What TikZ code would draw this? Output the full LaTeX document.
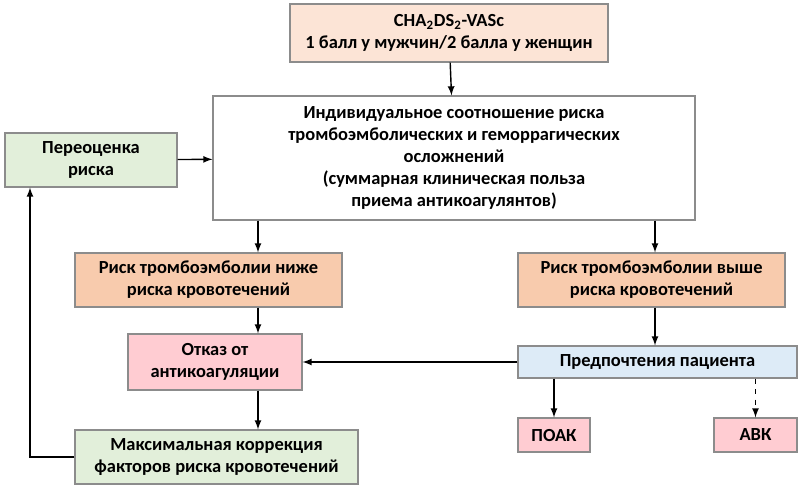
\documentclass[tikz,border=0pt]{standalone}
\usepackage{fontspec}
\setmainfont{Carlito}
\usepackage{xcolor}
\usetikzlibrary{positioning}
\definecolor{peach}{HTML}{FCE4D6}
\definecolor{orng}{HTML}{F8CBAD}
\definecolor{grn}{HTML}{E2EFDA}
\definecolor{pnk}{HTML}{FFCCD2}
\definecolor{blu}{HTML}{DDEBF7}
\tikzset{
  box/.style={draw=black!45, line width=0.6pt, align=center, inner sep=2pt,
    font=\fontsize{10.5}{12.6}\selectfont\bfseries},
  arr/.style={-latex, line width=0.8pt}
}
\begin{document}
\begin{tikzpicture}[x=0.02cm,y=-0.02cm]
\useasboundingbox (0,0) rectangle (800,488);

\node[box, fill=peach, minimum width=318*0.02cm, minimum height=58*0.02cm] (cha) at (449,33)
  {CHA\textsubscript{2}DS\textsubscript{2}-VASc\\1 балл у мужчин/2 балла у женщин};
\node[box, fill=white, minimum width=482*0.02cm, minimum height=124*0.02cm] (main) at (454,158)
  {Индивидуальное соотношение риска\\тромбоэмболических и геморрагических\\осложнений\\(суммарная клиническая польза\\приема антикоагулянтов)};
\node[box, fill=grn, minimum width=172*0.02cm, minimum height=54*0.02cm] (reval) at (91,160)
  {Переоценка\\риска};
\node[box, fill=orng, minimum width=267*0.02cm, minimum height=54*0.02cm] (low) at (208.5,280)
  {Риск тромбоэмболии ниже\\риска кровотечений};
\node[box, fill=orng, minimum width=267*0.02cm, minimum height=54*0.02cm] (high) at (651.5,280)
  {Риск тромбоэмболии выше\\риска кровотечений};
\node[box, fill=pnk, minimum width=174*0.02cm, minimum height=56*0.02cm] (refuse) at (215,362)
  {Отказ от\\антикоагуляции};
\node[box, fill=blu, minimum width=279*0.02cm, minimum height=32*0.02cm] (pref) at (657.5,362)
  {Предпочтения пациента};
\node[box, fill=grn, minimum width=283*0.02cm, minimum height=54*0.02cm] (corr) at (216.5,457)
  {Максимальная коррекция\\факторов риска кровотечений};
\node[box, fill=pnk, minimum width=72*0.02cm, minimum height=34*0.02cm] (noac) at (554,435)
  {ПОАК};
\node[box, fill=pnk, minimum width=83*0.02cm, minimum height=34*0.02cm] (vka) at (755.5,435)
  {АВК};

\draw[arr] (cha) -- (main);
\draw[arr] (main.south -| low.north -| 258,0) -- (258,0 |- low.north);
\draw[arr] (main.south -| 655,0) -- (655,0 |- high.north);
\draw[arr] (low.south -| 258,0) -- (258,0 |- refuse.north);
\draw[arr] (high.south -| 655,0) -- (655,0 |- pref.north);
\draw[arr] (pref) -- (refuse);
\draw[arr] (refuse.south -| 258,0) -- (258,0 |- corr.north);
\draw[arr] (pref.south -| noac) -- (noac);
\draw[arr, dashed] (pref.south -| vka) -- (vka);
\draw[arr] (corr.west) -| (30,0 |- reval.south);
\draw[arr] (reval) -- (main);
\end{tikzpicture}
\end{document}
